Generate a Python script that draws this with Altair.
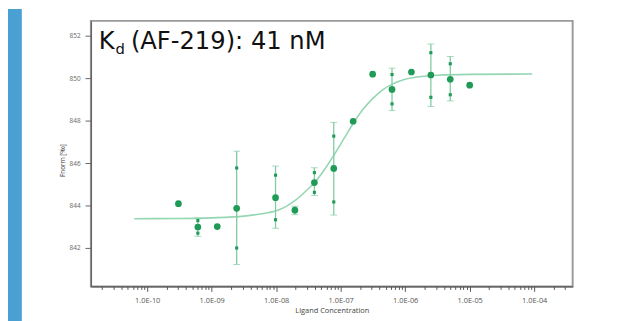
import altair as alt
import pandas as pd

# ---- data ----
conc = [3.05e-10, 6.1e-10, 1.22e-9, 2.44e-9, 9.77e-9, 1.95e-8, 3.91e-8, 7.81e-8,
        1.56e-7, 3.13e-7, 6.25e-7, 1.25e-6, 2.5e-6, 5e-6, 1e-5]
fnorm = [844.09, 842.99, 843.01, 843.87, 844.37, 843.78, 845.08, 845.75,
         847.97, 850.19, 849.47, 850.29, 850.15, 849.95, 849.67]

eb_conc = [6.1e-10, 2.44e-9, 9.77e-9, 1.95e-8, 3.91e-8, 7.81e-8, 6.25e-7, 2.5e-6, 5e-6]
eb_hi = [843.41, 846.56, 845.86, 843.97, 845.78, 847.92, 850.47, 851.61, 851.02]
eb_lo = [842.55, 841.22, 842.93, 843.57, 844.47, 843.55, 848.48, 848.67, 848.93]

rep_conc = [6.1e-10, 6.1e-10, 2.44e-9, 2.44e-9, 9.77e-9, 9.77e-9, 3.91e-8, 3.91e-8,
            7.81e-8, 7.81e-8, 6.25e-7, 6.25e-7, 2.5e-6, 2.5e-6, 5e-6, 5e-6]
rep_val = [843.29, 842.70, 845.77, 842.00, 845.43, 843.33, 845.55, 844.62,
           847.27, 844.17, 850.17, 848.79, 851.20, 849.10, 850.68, 849.22]

fit_logc = [-10.2, -9.5, -9.0, -8.5, -8.25, -8.0, -7.85, -7.7, -7.55, -7.4, -7.25,
            -7.1, -6.95, -6.8, -6.65, -6.5, -6.35, -6.2, -6.0, -5.75, -5.5, -5.0, -4.03]
fit_val = [843.38, 843.39, 843.42, 843.50, 843.60, 843.75, 843.95, 844.25, 844.65,
           845.10, 845.70, 846.40, 847.15, 847.90, 848.55, 849.05, 849.45, 849.72,
           849.95, 850.08, 850.14, 850.18, 850.20]

y_ticks = [842, 844, 846, 848, 850, 852]
x_decades = [-11, -10, -9, -8, -7, -6, -5, -4]

x_tick_values = [m * 10.0 ** d for d in x_decades for m in range(1, 10)]
x_tick_values = [v for v in x_tick_values if 1.341e-11 <= v <= 3.95e-4]

pts = pd.DataFrame({"c": conc, "f": fnorm})
ebs = pd.DataFrame({"c": eb_conc, "lo": eb_lo, "hi": eb_hi})
caps = pd.DataFrame({"c": eb_conc + eb_conc, "v": eb_lo + eb_hi})
reps = pd.DataFrame({"c": rep_conc, "v": rep_val})
fit = pd.DataFrame({"c": [10.0 ** v for v in fit_logc], "f": fit_val})

GREEN = "#1f9a57"
LIGHT = "#80cba2"
FONT = "Open Sans"

L = "log(datum.value)/LN10"
is_dec = f"abs({L} - round({L})) < 0.001"
label_expr = (f"{is_dec} ? '1.0E' + ({L} < 0 ? '-' : '+') + "
              f"(abs(round({L})) < 10 ? '0' : '') + abs(round({L})) : ''")

xscale = alt.Scale(type="log", domain=[1.341e-11, 3.95e-4], nice=False)
yscale = alt.Scale(domain=[840.19, 852.70], zero=False, nice=False)

xaxis = alt.Axis(
    title="Ligand Concentration", values=x_tick_values, labelExpr=label_expr,
    labelOverlap=False, labelFlush=False, grid=False, zindex=1,
    domainColor="#555555", domainWidth=1.3, tickColor="#555555",
    tickSize={"condition": {"test": is_dec, "value": 5}, "value": 3},
    labelFont=FONT, labelFontSize=7.5, labelColor="#555555", labelPadding=5,
    titleFont=FONT, titleFontSize=7.5, titleFontWeight="normal",
    titleColor="#444444", titlePadding=3,
)
yaxis = alt.Axis(
    title="Fnorm [‰]", values=y_ticks, grid=False, zindex=1,
    domainColor="#666666", domainWidth=1.3, tickColor="#666666", tickSize=6,
    labelFont=FONT, labelFontSize=6.5, labelColor="#666666", labelPadding=5,
    titleFont=FONT, titleFontSize=6.5, titleFontWeight="normal",
    titleColor="#444444", titlePadding=4, titleY=141,
)

base_x = alt.X("c:Q", scale=xscale, axis=xaxis)

curve = alt.Chart(fit).mark_line(color="#95d6b3", strokeWidth=1.6, interpolate="monotone").encode(
    x=base_x, y=alt.Y("f:Q", scale=yscale, axis=yaxis))

bars = alt.Chart(ebs).mark_rule(color=LIGHT, strokeWidth=1.3).encode(
    x=alt.X("c:Q", scale=xscale), y=alt.Y("lo:Q", scale=yscale), y2="hi:Q")

cap = alt.Chart(caps).mark_tick(color=LIGHT, orient="horizontal", size=7, thickness=1).encode(
    x=alt.X("c:Q", scale=xscale), y=alt.Y("v:Q", scale=yscale))

rep = alt.Chart(reps).mark_square(color=GREEN, size=10, opacity=1).encode(
    x=alt.X("c:Q", scale=xscale), y=alt.Y("v:Q", scale=yscale))

dots = alt.Chart(pts).mark_circle(color=GREEN, size=46, opacity=1).encode(
    x=alt.X("c:Q", scale=xscale), y=alt.Y("f:Q", scale=yscale))

one = pd.DataFrame({"a": [0]})
strip = alt.Chart(one).mark_rect(color="#4aa0d2").encode(
    x=alt.value(-84), x2=alt.value(-70), y=alt.value(-12), y2=alt.value(305))

ANN_FONT = "DejaVu Sans"
k_txt = alt.Chart(one).mark_text(text="K", font=ANN_FONT, fontSize=24.5, align="left",
                                 baseline="alphabetic", color="#111111").encode(
    x=alt.value(8), y=alt.value(28))
d_txt = alt.Chart(one).mark_text(text="d", font=ANN_FONT, fontSize=15, align="left",
                                 baseline="alphabetic", color="#111111").encode(
    x=alt.value(25), y=alt.value(33.5))
rest_txt = alt.Chart(one).mark_text(text="(AF-219): 41 nM", font=ANN_FONT, fontSize=24.5,
                                    align="left", baseline="alphabetic", color="#111111").encode(
    x=alt.value(40.5), y=alt.value(28))

chart = alt.layer(strip, curve, bars, cap, rep, dots, k_txt, d_txt, rest_txt).properties(
    width=488, height=269,
    autosize=alt.AutoSizeParams(type="none"),
    padding={"left": 84, "top": 11, "right": 51, "bottom": 33},
    background="white",
).configure_view(stroke="#9a9a9a", strokeWidth=2)

chart.save("out.html", embed_options={"renderer": "svg", "actions": False})
